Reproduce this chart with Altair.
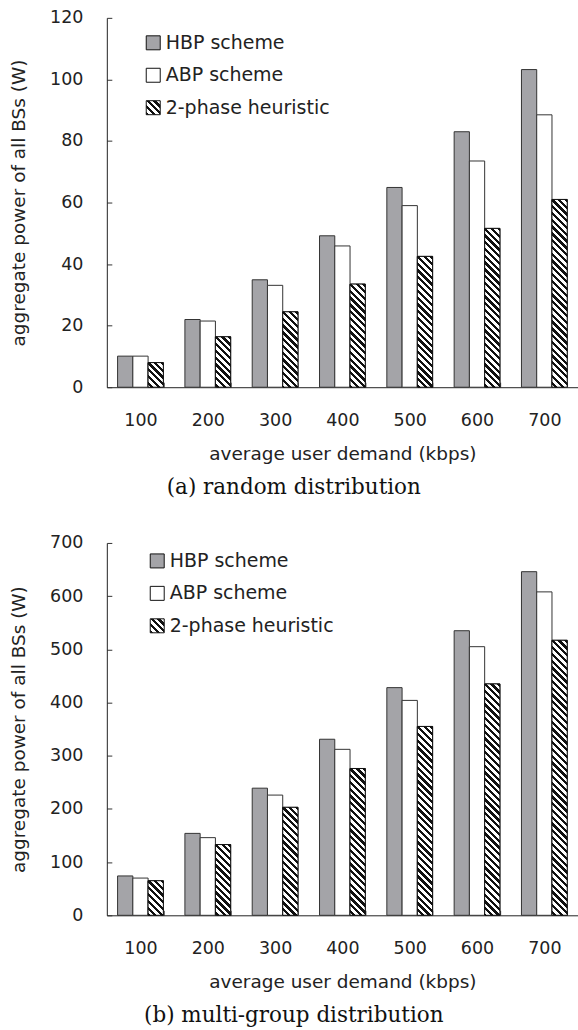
import math
import altair as alt

# ---------------- data ----------------
categories = ["100", "200", "300", "400", "500", "600", "700"]
series = ["HBP scheme", "ABP scheme", "2-phase heuristic"]

hbp_a = [10.1, 22.0, 34.9, 49.2, 64.9, 83.0, 103.2]
abp_a = [10.1, 21.5, 33.1, 45.9, 59.0, 73.5, 88.5]
two_a = [8.0, 16.4, 24.5, 33.5, 42.5, 51.6, 61.0]

hbp_b = [74, 154, 239, 331, 428, 535, 646]
abp_b = [70, 146, 226, 312, 404, 505, 608]
two_b = [65, 133, 203, 276, 355, 435, 517]

ticks_a = [0, 20, 40, 60, 80, 100, 120]
ticks_b = [0, 100, 200, 300, 400, 500, 600, 700]

# ---------------- layout / style ----------------
W = 472
H_A = 370
H_B = 373
P_IN, P_OUT = 0.32, 0.16
STEP = W / (len(categories) - P_IN + 2 * P_OUT)
BAR_W = STEP * (1 - P_IN) / 3
FONT = "DejaVu Sans"
TXT = "#222222"
GRAY = "#a4a4a8"
PERIOD = 6.8      # stripe period (px, along y)
BLACK_FRAC = 0.48


def stripe_stops(total):
    stops = []
    k = 0
    while k * PERIOD < total:
        a = k * PERIOD / total
        b = min((k * PERIOD + PERIOD * BLACK_FRAC) / total, 1.0)
        c = min((k + 1) * PERIOD / total, 1.0)
        stops += [{"offset": round(a, 5), "color": "#111111"},
                  {"offset": round(b, 5), "color": "#111111"},
                  {"offset": round(b, 5), "color": "#ffffff"},
                  {"offset": round(c, 5), "color": "#ffffff"}]
        k += 1
    return stops


def hatch(h, w):
    """linear gradient giving 45deg '\\' stripes in a w x h px box"""
    h = max(h, 1.0)
    k = (h + w) / (w * w + h * h)
    return {"gradient": "linear", "x1": 1, "y1": 0,
            "x2": round(1 - k * w, 6), "y2": round(k * h, 6),
            "stops": stripe_stops(h + w)}


def legend_grad_expr():
    size = 14.0
    stops = stripe_stops(2 * size)
    s = ",".join("{offset:%s,color:'%s'}" % (st["offset"], st["color"]) for st in stops)
    return "{gradient:'linear',x1:0,y1:1,x2:1,y2:0,stops:[%s]}" % s


def panel(vals, ymax, H, ticks, caption, lx, ly):
    rows = []
    for i, c in enumerate(categories):
        for s, arr in zip(series, vals):
            rows.append({"demand": c, "series": s, "power": arr[i]})
    hrows = [{"demand": c, "series": series[2], "power": vals[2][i],
              "hatch": hatch(vals[2][i] / ymax * H, BAR_W)}
             for i, c in enumerate(categories)]

    x_enc = alt.X("demand:N", sort=categories,
                  scale=alt.Scale(domain=categories, paddingInner=P_IN, paddingOuter=P_OUT),
                  axis=alt.Axis(title="average user demand (kbps)", labelAngle=0,
                                tickBand="extent", tickSize=alt.ExprRef(expr="-5"),
                                tickColor="#333", domainColor="#222",
                                labelFont=FONT, labelFontSize=17.5, labelColor=TXT,
                                labelPadding=29, titleFont=FONT, titleFontSize=18.5,
                                titleFontWeight="normal", titleColor=TXT, titlePadding=16))
    xo_enc = alt.XOffset("series:N", sort=series,
                         scale=alt.Scale(domain=series, paddingInner=0, paddingOuter=0))
    y_enc = alt.Y("power:Q", scale=alt.Scale(domain=[0, ymax], nice=False),
                  axis=alt.Axis(title="aggregate power of all BSs (W)", values=ticks,
                                grid=False, tickSize=alt.ExprRef(expr="-5"),
                                tickColor="#333", domainColor="#222",
                                labelFont=FONT, labelFontSize=17.5, labelColor=TXT,
                                labelPadding=29, titleFont=FONT, titleFontSize=18.5,
                                titleFontWeight="normal", titleColor=TXT, titlePadding=21))

    base = alt.Chart(alt.Data(values=rows)).mark_bar(stroke="#333333", strokeWidth=1).encode(
        x=x_enc, xOffset=xo_enc, y=y_enc,
        fill=alt.Fill("series:N", sort=series,
                      scale=alt.Scale(domain=series,
                                      range=[GRAY, "#ffffff", alt.ExprRef(expr=legend_grad_expr())]),
                      legend=alt.Legend(title=None, orient="none", legendX=lx, legendY=ly,
                                        symbolType="square", symbolSize=196,
                                        symbolStrokeColor="#333333", symbolStrokeWidth=1,
                                        symbolOpacity=1, labelFont=FONT, labelFontSize=19,
                                        labelColor=TXT, labelOffset=3, labelLimit=400,
                                        rowPadding=12.5, padding=0)),
    )
    hatched = alt.Chart(alt.Data(values=hrows)).mark_bar(stroke="#111111", strokeWidth=1).encode(
        x=alt.X("demand:N", sort=categories), xOffset=alt.XOffset("series:N", sort=series),
        y=alt.Y("power:Q"),
        fill=alt.Fill("hatch", type="nominal", scale=None),
    )
    return alt.layer(base, hatched).properties(
        width=W, height=H,
        title=alt.TitleParams(caption, orient="bottom", anchor="middle", frame="bounds",
                              font="DejaVu Serif", fontSize=21.5, fontWeight="normal",
                              color="#111111", offset=14),
    )


top = panel([hbp_a, abp_a, two_a], 120, H_A, ticks_a, "(a) random distribution", 37, 15.5)
bottom = panel([hbp_b, abp_b, two_b], 700, H_B, ticks_b, "(b) multi-group distribution", 41, 8.5)

chart = alt.vconcat(top, bottom, spacing=35).resolve_scale(fill="independent").resolve_legend(
    fill="independent"
).properties(
    padding={"left": 9, "top": 8, "right": 0, "bottom": 0},
    background="white",
).configure_view(stroke=None)

chart.save("out.html", embed_options={"renderer": "svg", "actions": False})
